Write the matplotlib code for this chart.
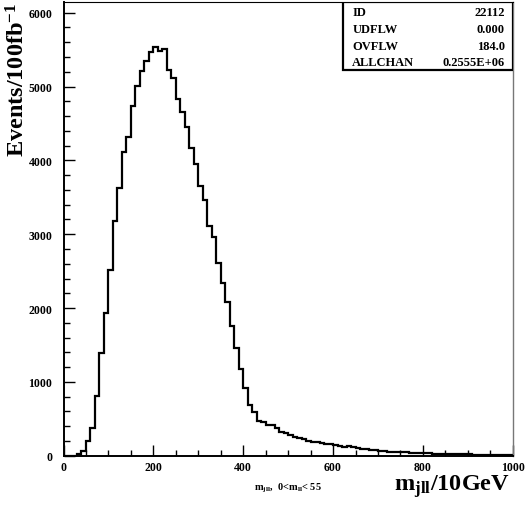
import numpy as np
import matplotlib
matplotlib.use("Agg")
import matplotlib.pyplot as plt
from matplotlib.patches import Rectangle

# m_jll histogram, 10 GeV bins from 0 to 1000
bin_edges = np.arange(0, 1001, 10)
counts = [0, 0, 0, 20, 68, 203, 375, 813, 1390, 1932,
          2519, 3174, 3621, 4109, 4312, 4741, 5003, 5206, 5350, 5472,
          5531, 5486, 5508, 5224, 5115, 4831, 4650, 4447, 4167, 3951,
          3648, 3463, 3115, 2966, 2605, 2339, 2077, 1761, 1454, 1174,
          912, 691, 587, 474, 452, 420, 415, 370, 316, 307,
          284, 257, 235, 226, 203, 190, 181, 167, 158, 153,
          144, 131, 122, 126, 113, 99, 90, 90, 81, 72,
          68, 59, 54, 50, 45, 54, 45, 41, 41, 36,
          36, 32, 27, 27, 23, 27, 23, 18, 23, 18,
          18, 14, 14, 14, 14, 9, 9, 9, 5, 5]

stat_names = ["ID", "UDFLW", "OVFLW", "ALLCHAN"]
stat_values = ["22112", "0.000", "184.0", "0.2555E+06"]

x_major = [0, 200, 400, 600, 800, 1000]
y_major = [0, 1000, 2000, 3000, 4000, 5000, 6000]

plt.rcParams['font.family'] = ['Liberation Serif', 'DejaVu Serif']
plt.rcParams['font.weight'] = 'bold'
plt.rcParams['mathtext.fontset'] = 'custom'
plt.rcParams['mathtext.rm'] = 'Liberation Serif:bold'
plt.rcParams['mathtext.it'] = 'Liberation Serif:bold'
plt.rcParams['mathtext.bf'] = 'Liberation Serif:bold'
plt.rcParams['mathtext.default'] = 'rm'

fig = plt.figure(figsize=(5.28, 5.10), dpi=100)
ax = fig.add_axes([0.1203, 0.1045, 0.8508, 0.8896])

ax.stairs(counts, bin_edges, color='black', linewidth=1.6)

ax.set_xlim(0, 1000)
ax.set_ylim(0, 6145)

ax.set_xticks(x_major)
ax.set_xticks(np.arange(0, 1001, 50), minor=True)
ax.set_yticks(y_major)
ax.set_yticks(np.arange(0, 6001, 200), minor=True)
ax.tick_params(which='both', direction='in', top=False, right=False,
               labelsize=8.5, width=1.0)
ax.tick_params(axis='y', pad=8)
ax.tick_params(axis='x', pad=4)
ax.tick_params(which='major', length=8)
ax.tick_params(which='minor', length=4)
for lab in ax.get_xticklabels() + ax.get_yticklabels():
    lab.set_fontweight('bold')

ax.spines['left'].set_linewidth(1.4)
ax.spines['bottom'].set_linewidth(1.4)
ax.spines['top'].set_linewidth(0.8)
ax.spines['right'].set_linewidth(1.0)
ax.spines['right'].set_color('#777777')

# y axis title
fig.text(0.012, 0.995, r'Events/100fb$^{-1}$', rotation=90,
         ha='left', va='top', fontsize=17.5, fontweight='bold')

# x axis title
fig.text(0.966, 0.02, r'm$_{jll}$/10GeV', ha='right', va='bottom',
         fontsize=17.5, fontweight='bold')

# small caption under the axis
fig.text(0.545, 0.03, r'm$_{jll}$,  0<m$_{ll}$< 55',
         ha='center', va='bottom', fontsize=7.5, fontweight='bold')

# statistics box
box_left, box_bottom = 0.622, 0.850
ax.add_patch(Rectangle((box_left, box_bottom), 1 - box_left, 1 - box_bottom,
                       transform=ax.transAxes, facecolor='white',
                       edgecolor='black', linewidth=1.6, zorder=5))
row_y = [0.9785, 0.941, 0.9035, 0.868]
for name, val, yy in zip(stat_names, stat_values, row_y):
    ax.text(0.643, yy, name, transform=ax.transAxes, ha='left', va='center',
            fontsize=9, fontweight='bold', zorder=6)
    ax.text(0.982, yy, val, transform=ax.transAxes, ha='right', va='center',
            fontsize=9, fontweight='bold', zorder=6)

fig.savefig('out.png', dpi=100)
